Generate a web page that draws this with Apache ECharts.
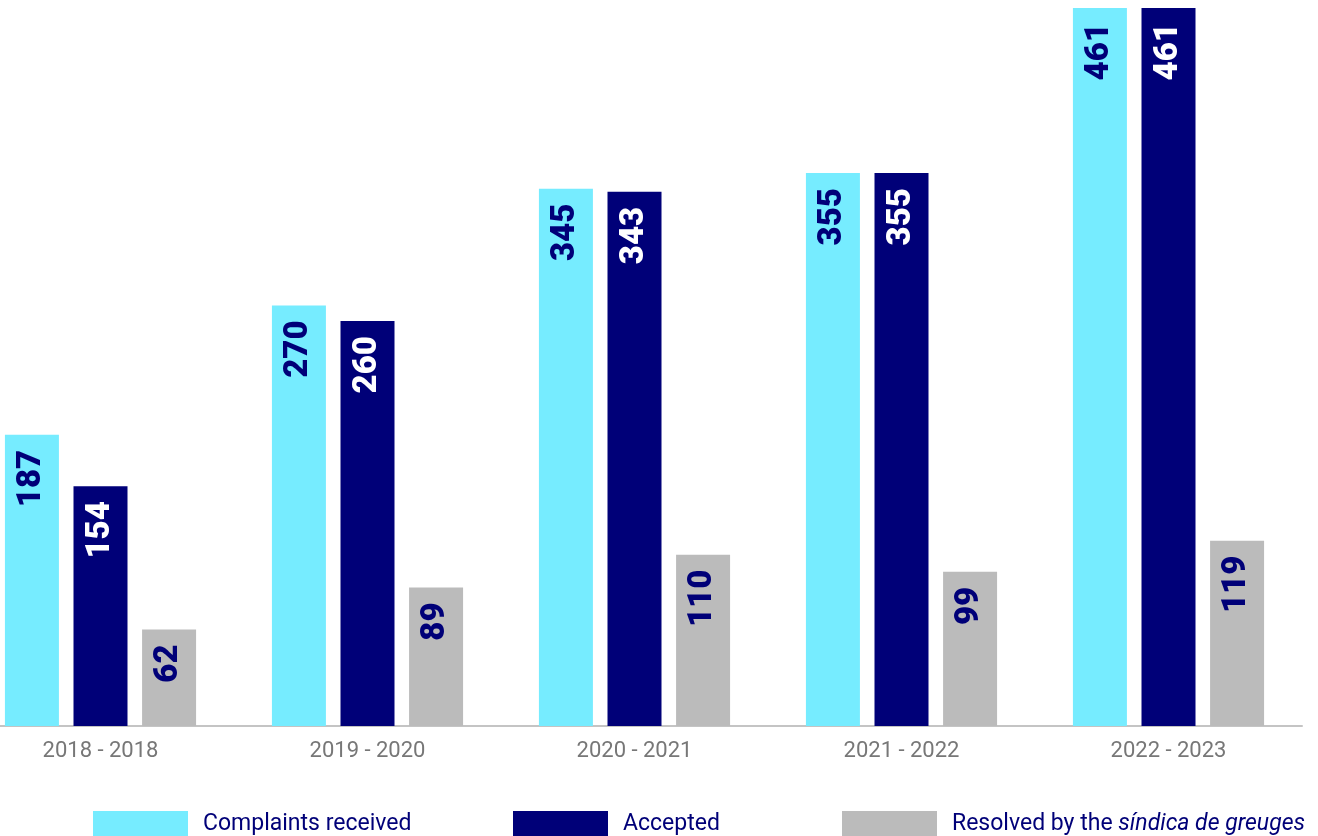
<!DOCTYPE html>
<html>
<head>
<meta charset="utf-8">
<script src="https://cdn.jsdelivr.net/npm/echarts@6/dist/echarts.min.js"></script>
<style>
html,body{margin:0;padding:0;background:#fff;overflow:hidden;}
#chart{position:absolute;left:-33px;top:0;width:1351px;height:836px;}
</style>
</head>
<body>
<div id="chart"></div>
<script>
const categories = ['2018 - 2018', '2019 - 2020', '2020 - 2021', '2021 - 2022', '2022 - 2023'];
const seriesNames = ['Complaints received', 'Accepted', 'Resolved by the síndica de greuges'];
const received = [187, 270, 345, 355, 461];
const accepted = [154, 260, 343, 355, 461];
const resolved = [62, 89, 110, 99, 119];

const CYAN = '#76ECFF', NAVY = '#000078', GRAY = '#BBBBBB';
const FONT = 'Roboto, "Open Sans", sans-serif';
const SHIFT = 33; // container is shifted left by this many px

function barSeries(name, data, color, labelColor) {
  return {
    name: name,
    type: 'bar',
    data: data,
    barWidth: 54,
    barGap: '27%',
    itemStyle: { color: color },
    label: {
      show: true,
      position: 'insideTop',
      distance: 15,
      rotate: 90,
      align: 'right',
      verticalAlign: 'middle',
      color: labelColor,
      fontFamily: FONT,
      fontWeight: 900,
      fontSize: 33
    }
  };
}

function legendAt(left, name) {
  return {
    data: [name],
    left: left + SHIFT - 5,
    top: 806,
    orient: 'horizontal',
    itemWidth: 95,
    itemHeight: 26,
    itemGap: 0,
    icon: 'rect',
    selectedMode: false,
    textStyle: {
      color: NAVY,
      fontFamily: FONT,
      fontSize: 23,
      padding: [0, 0, 0, 10],
      rich: {
        n: { color: NAVY, fontFamily: FONT, fontSize: 23 },
        i: { color: NAVY, fontFamily: FONT, fontSize: 23, fontStyle: 'italic' }
      }
    },
    formatter: function (n) {
      if (n === seriesNames[2]) return '{n|Resolved by the }{i|síndica de greuges}';
      return n;
    }
  };
}

const chart = echarts.init(document.getElementById('chart'), null, { renderer: 'canvas' });
chart.setOption({
  animation: false,
  backgroundColor: '#ffffff',
  grid: { left: 0, right: 16, top: 8, bottom: 110, containLabel: false },
  xAxis: {
    type: 'category',
    data: categories,
    axisLine: { show: true, lineStyle: { color: '#C4C4C4', width: 2 } },
    axisTick: { show: false },
    axisLabel: { color: '#777777', fontFamily: FONT, fontSize: 22, margin: 14 }
  },
  yAxis: {
    type: 'value',
    min: 0,
    max: 461,
    show: false,
    splitLine: { show: false }
  },
  legend: [
    legendAt(93, seriesNames[0]),
    legendAt(513, seriesNames[1]),
    legendAt(842, seriesNames[2])
  ],
  series: [
    barSeries(seriesNames[0], received, CYAN, NAVY),
    barSeries(seriesNames[1], accepted, NAVY, '#FFFFFF'),
    barSeries(seriesNames[2], resolved, GRAY, NAVY)
  ]
});
</script>
</body>
</html>
